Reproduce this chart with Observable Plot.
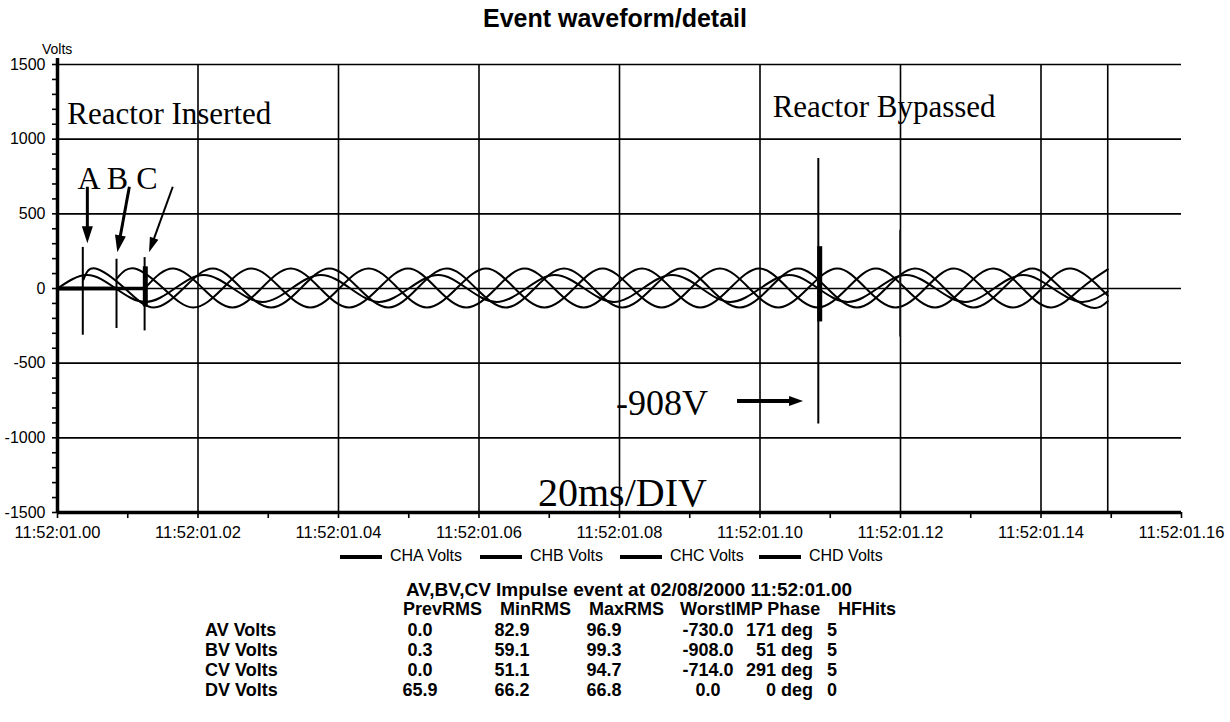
<!DOCTYPE html>
<html>
<head>
<meta charset="utf-8">
<script src="https://cdn.jsdelivr.net/npm/d3@7"></script>
<script src="https://cdn.jsdelivr.net/npm/@observablehq/plot@0.6"></script>
<style>
  html, body { margin: 0; padding: 0; background: #fff; }
  #page { position: relative; width: 1230px; height: 722px; overflow: hidden;
          font-family: "Liberation Sans", Arial, sans-serif; color: #000; }
  #chart { position: absolute; left: 0; top: 0; }
  .t { position: absolute; white-space: nowrap; line-height: 1; }
  #title { left: 0; width: 1230px; top: 6px; text-align: center; font-size: 25px; font-weight: bold; }
  #ylab { left: 42px; top: 42px; font-size: 14px; }
  .sw { position: absolute; height: 4px; background: #000; }
  .leg { font-size: 16px; }
  .tb { font-size: 18px; font-weight: bold; }
  .cap { font-size: 19px; }
</style>
</head>
<body>
<div id="page">
  <div id="chart"></div>
  <div id="title" class="t">Event waveform/detail</div>
  <div id="ylab" class="t">Volts</div>
  <div id="legend"></div>
  <div id="table"></div>
</div>
<script>
// ---- time axis (ms after 11:52:01.00) and voltage axis ----
const xTickTimes = [0, 20, 40, 60, 80, 100, 120, 140, 160];
const xTickLabels = ["11:52:01.00", "11:52:01.02", "11:52:01.04", "11:52:01.06", "11:52:01.08",
                     "11:52:01.10", "11:52:01.12", "11:52:01.14", "11:52:01.16"];
const xMinorTimes = [10, 30, 50, 70, 90, 110, 130, 150];
const yTickValues = [-1500, -1000, -500, 0, 500, 1000, 1500];
const yTickLabels = ["-1500", "-1000", "-500", "0", "500", "1000", "1500"];
const yMinorValues = d3.range(-1500, 1501, 100);
const recordEnd = 149.5;

// ---- channel traces [ms, V] ----
const chA = [[3.7,60],[5.4,134],[9.6,0],[13.7,-127],[17.9,0],[22.1,134],[26.2,0],[30.4,-127],[34.6,0],
  [38.7,134],[42.9,0],[47.1,-127],[51.2,0],[55.4,134],[59.6,0],[63.8,-127],[67.9,0],[72.1,134],[76.3,0],
  [80.4,-127],[84.6,0],[88.8,134],[92.9,0],[97.1,-127],[101.3,0],[105.4,134],[109.6,0],[113.8,-127],
  [117.9,0],[122.1,134],[126.3,0],[130.4,-127],[134.6,0],[138.8,134],[142.9,0],[147.1,-127],[149.5,-85]];
const chB = [[8.5,70],[11.0,134],[15.1,0],[19.3,-127],[23.5,0],[27.6,134],[31.8,0],[36.0,-127],[40.1,0],
  [44.3,134],[48.5,0],[52.6,-127],[56.8,0],[61.0,134],[65.1,0],[69.3,-127],[73.5,0],[77.6,134],[81.8,0],
  [86.0,-127],[90.1,0],[94.3,134],[98.5,0],[102.6,-127],[106.8,0],[111.0,134],[115.1,0],[119.3,-127],
  [123.5,0],[127.6,134],[131.8,0],[136.0,-127],[140.1,0],[144.3,134],[148.5,0],[149.5,-48]];
const chC = [[12.7,15],[16.5,134],[20.7,0],[24.9,-127],[29.0,0],[33.2,134],[37.4,0],[41.5,-127],[45.7,0],
  [49.9,134],[54.0,0],[58.2,-127],[62.4,0],[66.5,134],[70.7,0],[74.9,-127],[79.0,0],[83.2,134],[87.4,0],
  [91.5,-127],[95.7,0],[99.9,134],[104.0,0],[108.2,-127],[112.4,0],[116.5,134],[120.7,0],[124.9,-127],
  [129.0,0],[133.2,134],[137.4,0],[141.5,-127],[145.7,0],[149.5,128]];
const chD = [[0,0],[4.2,90],[8.3,0],[12.5,-90],[16.7,0],[20.8,90],[25.0,0],[29.2,-90],[33.3,0],[37.5,90],
  [41.7,0],[45.8,-90],[50.0,0],[54.2,90],[58.3,0],[62.5,-90],[66.7,0],[70.8,90],[75.0,0],[79.2,-90],
  [83.3,0],[87.5,90],[91.7,0],[95.8,-90],[100.0,0],[104.2,90],[108.3,0],[112.5,-90],[116.7,0],
  [120.8,90],[125.0,0],[129.2,-90],[133.3,0],[137.5,90],[141.7,0],[145.8,-90],[149.5,-20]];
// phases held at 0 V until the reactor switches them in
const energized = [{ch: "CHA", t: 3.6}, {ch: "CHB", t: 8.4}, {ch: "CHC", t: 12.4}];

// switching impulses: single-sample spikes, dense ringing bursts, and a faint echo
const spikes = [
  {t: 3.6, hi: 275, lo: -313},
  {t: 8.4, hi: 196, lo: -268},
  {t: 12.4, hi: 207, lo: -284},
  {t: 108.3, hi: 870, lo: -908}
];
const bursts = [
  {t: 12.5, hi: 145, lo: -123},
  {t: 108.5, hi: 280, lo: -224}
];
const echoes = [
  {t: 119.9, hi: 390, lo: -324}
];

// ---- annotations ----
const notes = [
  {text: "Reactor Inserted", t: 1.4, v: 1165},
  {text: "Reactor Bypassed", t: 101.8, v: 1212},
  {text: "A B C", t: 2.85, v: 737},
  {text: "-908V", t: 79.5, v: -770},
  {text: "20ms/DIV", t: 68.4, v: -1370}
];
const noteSize = {"Reactor Inserted": 31, "Reactor Bypassed": 31, "A B C": 32, "-908V": 36, "20ms/DIV": 40};
const arrows = [
  {name: "A", t1: 4.32, v1: 678, t2: 4.32, v2: 299},
  {name: "B", t1: 10.3, v1: 678, t2: 8.59, v2: 239},
  {name: "C", t1: 16.48, v1: 678, t2: 13.1, v2: 239},
  {name: "peak", t1: 96.8, v1: -757, t2: 106.2, v2: -757}
];
const arrowStyle = {A: {w: 3, head: 17, half: 5.5}, B: {w: 3, head: 17, half: 5.5},
                    C: {w: 2, head: 15, half: 4.5}, peak: {w: 4, head: 14, half: 5}};

// ---- legend and summary table ----
const legendNames = ["CHA Volts", "CHB Volts", "CHC Volts", "CHD Volts"];
const tableTitle = "AV,BV,CV Impulse event at 02/08/2000 11:52:01.00";
const tableHeaders = ["PrevRMS", "MinRMS", "MaxRMS", "WorstIMP Phase", "HFHits"];
const rowNames = ["AV Volts", "BV Volts", "CV Volts", "DV Volts"];
const prevRMS = ["0.0", "0.3", "0.0", "65.9"];
const minRMS = ["82.9", "59.1", "51.1", "66.2"];
const maxRMS = ["96.9", "99.3", "94.7", "66.8"];
const worstIMP = ["-730.0", "-908.0", "-714.0", "0.0"];
const phase = ["171 deg", "51 deg", "291 deg", "0 deg"];
const hfHits = ["5", "5", "5", "0"];

// ---- chart ----
const traces = [
  ...chA.map(([t, v]) => ({ch: "CHA", t, v})),
  ...chB.map(([t, v]) => ({ch: "CHB", t, v})),
  ...chC.map(([t, v]) => ({ch: "CHC", t, v})),
  ...chD.map(([t, v]) => ({ch: "CHD", t, v}))
];
const svgNS = "http://www.w3.org/2000/svg";

// filled-head arrows, placed through the chart's x/y scales
function arrowMark(index, scales) {
  const g = document.createElementNS(svgNS, "g");
  for (const a of arrows) {
    const s = arrowStyle[a.name];
    const x1 = scales.x(a.t1), y1 = scales.y(a.v1), x2 = scales.x(a.t2), y2 = scales.y(a.v2);
    const len = Math.hypot(x2 - x1, y2 - y1), ux = (x2 - x1) / len, uy = (y2 - y1) / len;
    const bx = x2 - ux * s.head, by = y2 - uy * s.head;
    const line = document.createElementNS(svgNS, "line");
    line.setAttribute("x1", x1); line.setAttribute("y1", y1);
    line.setAttribute("x2", bx + ux * 1); line.setAttribute("y2", by + uy * 1);
    line.setAttribute("stroke", "black"); line.setAttribute("stroke-width", s.w);
    g.appendChild(line);
    const head = document.createElementNS(svgNS, "polygon");
    head.setAttribute("points",
      `${x2},${y2} ${bx - uy * s.half},${by + ux * s.half} ${bx + uy * s.half},${by - ux * s.half}`);
    head.setAttribute("fill", "black");
    g.appendChild(head);
  }
  return g;
}

const chart = Plot.plot({
  width: 1230,
  height: 545,
  marginLeft: 57,
  marginRight: 49,
  marginTop: 64,
  marginBottom: 33,
  x: {domain: [0, 160]},
  y: {domain: [-1500, 1500]},
  style: {background: "white", color: "black", fontFamily: "'Liberation Sans', Arial, sans-serif", fontSize: "16px", overflow: "visible"},
  marks: [
    // grid
    Plot.ruleY(yTickValues.filter(v => v > -1500), {stroke: "black", strokeWidth: 1.6}),
    Plot.ruleX(xTickTimes.filter(t => t > 0 && t < 160).concat([recordEnd]), {stroke: "black", strokeWidth: 1.6}),
    // axes
    Plot.axisY(yMinorValues, {tickSize: 5, strokeWidth: 1.6, tickFormat: () => "", label: null}),
    Plot.axisY(yTickValues, {tickSize: 0, tickPadding: 12, fontSize: 16,
      tickFormat: v => yTickLabels[yTickValues.indexOf(v)], label: null}),
    Plot.axisX(xMinorTimes, {tickSize: 6, strokeWidth: 1.6, tickFormat: () => "", label: null}),
    Plot.axisX(xTickTimes, {tickSize: 6, tickPadding: 8, strokeWidth: 1.6, fontSize: 16.5,
      tickFormat: t => xTickLabels[xTickTimes.indexOf(t)], label: null}),
    Plot.ruleX([0], {y1: -1500, y2: 1540, stroke: "black", strokeWidth: 3.5}),
    Plot.ruleY([-1500], {x1: 0, x2: 160, stroke: "black", strokeWidth: 3.5}),
    // idle phases before switching
    Plot.ruleY(energized, {y: 0, x1: 0, x2: "t", stroke: "black", strokeWidth: 3.5}),
    // waveforms
    Plot.line(traces, {x: "t", y: "v", z: "ch", curve: "natural", stroke: "black", strokeWidth: 2}),
    // impulses
    Plot.ruleX(spikes, {x: "t", y1: "lo", y2: "hi", stroke: "black", strokeWidth: 2}),
    Plot.ruleX(bursts, {x: "t", y1: "lo", y2: "hi", stroke: "black", strokeWidth: 5}),
    Plot.ruleX(echoes, {x: "t", y1: "lo", y2: "hi", stroke: "#222", strokeWidth: 1.2}),
    // annotations
    Plot.text(notes, {x: "t", y: "v", text: "text", textAnchor: "start", fill: "black",
      fontFamily: "'Liberation Serif', 'Times New Roman', serif", fontSize: d => noteSize[d.text]}),
    arrowMark
  ]
});
document.getElementById("chart").appendChild(chart);

// ---- legend ----
const legend = document.getElementById("legend");
const legendSwatchX = [340, 480, 620, 759];
legendNames.forEach((name, i) => {
  const sw = document.createElement("div");
  sw.className = "sw";
  sw.style.left = legendSwatchX[i] + "px";
  sw.style.top = "555px";
  sw.style.width = "42px";
  legend.appendChild(sw);
  const lab = document.createElement("div");
  lab.className = "t leg";
  lab.style.left = (legendSwatchX[i] + 50) + "px";
  lab.style.top = "548px";
  lab.textContent = name;
  legend.appendChild(lab);
});

// ---- summary table ----
const table = document.getElementById("table");
function cell(text, x, y, align, extra) {
  const d = document.createElement("div");
  d.className = "t tb" + (extra ? " " + extra : "");
  d.textContent = text;
  d.style.top = y + "px";
  if (align === "center") { d.style.left = x + "px"; d.style.transform = "translateX(-50%)"; }
  else if (align === "right") { d.style.right = (1230 - x) + "px"; }
  else d.style.left = x + "px";
  table.appendChild(d);
}
cell(tableTitle, 629, 580, "center", "cap");
const headerX = [403, 500, 589, 680, 838];
tableHeaders.forEach((h, i) => cell(h, headerX[i], 600, "left"));
const rowY = [621, 641, 661, 681];
const columns = [
  {values: prevRMS, x: 420, align: "center"},
  {values: minRMS, x: 512, align: "center"},
  {values: maxRMS, x: 604, align: "center"},
  {values: worstIMP, x: 708, align: "center"},
  {values: phase, x: 813, align: "right"},
  {values: hfHits, x: 827, align: "left"}
];
rowNames.forEach((r, i) => {
  cell(r, 205, rowY[i], "left");
  columns.forEach(c => cell(c.values[i], c.x, rowY[i], c.align));
});
</script>
</body>
</html>
